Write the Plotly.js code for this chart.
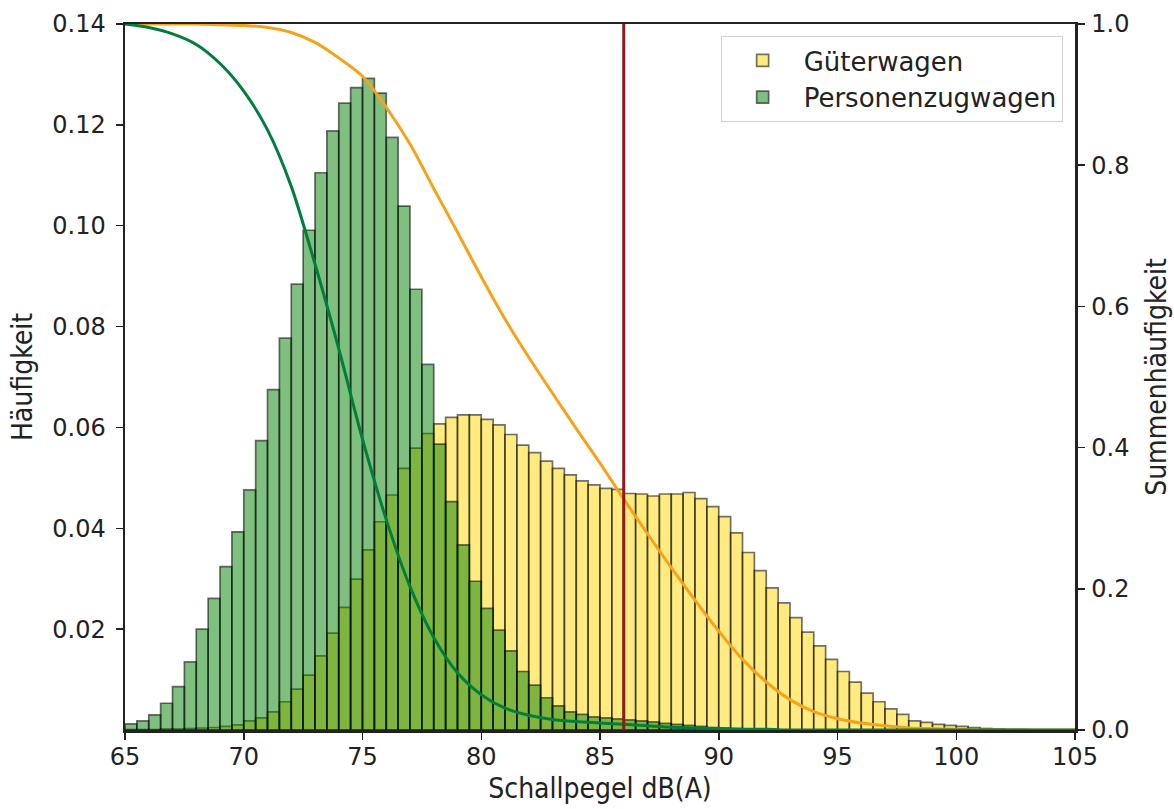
<!DOCTYPE html>
<html>
<head>
<meta charset="utf-8">
<script src="https://cdn.plot.ly/plotly-3.0.1.min.js"></script>
<style>
html,body{margin:0;padding:0;background:#fff;}
#chart{width:1174px;height:809px;}
</style>
</head>
<body>
<div id="chart"></div>
<script>
// ---- data ----
const binStart = 65;      // dB(A), left edge of first bin
const binWidth = 0.5;     // dB(A)

// Güterwagen density per 0.5 dB bin (65.0 .. 103.0)
const gueterwagen = [
  0.0001, 0.0001, 0.0001, 0.0002, 0.0002, 0.0003, 0.0004, 0.0005, 0.0007, 0.0010,
  0.0018, 0.0024, 0.0036, 0.0056, 0.0081, 0.0109, 0.0147, 0.0192, 0.0243, 0.0299,
  0.0357, 0.0413, 0.0466, 0.0519, 0.0559, 0.0588, 0.0607, 0.0620, 0.0625, 0.0625,
  0.0616, 0.0605, 0.0586, 0.0565, 0.0550, 0.0533, 0.0519, 0.0506, 0.0494, 0.0486,
  0.0479, 0.0477, 0.0469, 0.0468, 0.0464, 0.0468, 0.0468, 0.0471, 0.0459, 0.0443,
  0.0423, 0.0391, 0.0352, 0.0316, 0.0282, 0.0252, 0.0223, 0.0194, 0.0167, 0.0140,
  0.0116, 0.0095, 0.0073, 0.0056, 0.0042, 0.0031, 0.0018, 0.0015, 0.0011, 0.0009,
  0.0007, 0.0005, 0.0003, 0.0002, 0.0001, 0.0001
];

// Personenzugwagen density per 0.5 dB bin (65.0 .. 103.0)
const personenzugwagen = [
  0.0012, 0.0018, 0.0030, 0.0053, 0.0086, 0.0135, 0.0200, 0.0261, 0.0324, 0.0393,
  0.0476, 0.0574, 0.0675, 0.0777, 0.0884, 0.0991, 0.1105, 0.1188, 0.1243, 0.1274,
  0.1292, 0.1263, 0.1175, 0.1039, 0.0874, 0.0725, 0.0567, 0.0453, 0.0367, 0.0295,
  0.0241, 0.0198, 0.0157, 0.0116, 0.0089, 0.0064, 0.0048, 0.0036, 0.0031, 0.0026,
  0.0024, 0.0022, 0.0020, 0.0018, 0.0016, 0.0013, 0.0011, 0.0009, 0.0007, 0.0005,
  0.0004, 0.0003, 0.0002, 0.0001, 0.0001, 0, 0, 0, 0, 0,
  0, 0, 0, 0, 0, 0, 0, 0, 0, 0,
  0, 0, 0, 0, 0, 0
];

// Summenhäufigkeit (exceedance) curves, read at 1 dB steps
const curveDb = [65,66,67,68,69,70,71,72,73,74,75,76,77,78,79,80,81,82,83,84,85,
                 86,87,88,89,90,91,92,93,94,95,96,97,98,99,100,101,102,103,104,105];
const gueterSumme = [1.000,1.000,1.000,1.000,0.999,0.998,0.995,0.988,0.974,0.952,0.926,
                     0.882,0.830,0.767,0.705,0.642,0.582,0.528,0.477,0.427,0.378,
                     0.327,0.278,0.230,0.184,0.140,0.100,0.068,0.043,0.026,0.016,
                     0.010,0.006,0.003,0.002,0.001,0.000,0.000,0.000,0.000,0.000];
const personenSumme = [1.000,0.995,0.986,0.971,0.944,0.905,0.850,0.770,0.660,0.540,0.412,
                       0.298,0.203,0.131,0.081,0.050,0.031,0.021,0.015,0.012,0.010,
                       0.008,0.006,0.004,0.003,0.002,0.001,0.001,0.000,0.000,0.000,
                       0.000,0.000,0.000,0.000,0.000,0.000,0.000,0.000,0.000,0.000];

const grenzwertDb = 86;

const xTicks = [65, 70, 75, 80, 85, 90, 95, 100, 105];
const yTicksLeft = [0.02, 0.04, 0.06, 0.08, 0.10, 0.12, 0.14];
const yTicksRight = [0.0, 0.2, 0.4, 0.6, 0.8, 1.0];

const labelGueter = 'Güterwagen';
const labelPersonen = 'Personenzugwagen';

// ---- build ----
const binCenters = gueterwagen.map((_, i) => binStart + binWidth * (i + 0.5));
const axisColor = '#222222';
const tickFont = {family: 'DejaVu Sans, sans-serif', size: 24, color: '#222222'};
const titleFont = {family: 'DejaVu Sans Condensed, Liberation Sans Narrow, DejaVu Sans, sans-serif', size: 28, color: '#222222'};

const traces = [
  {
    type: 'bar', x: binCenters, y: gueterwagen, width: binWidth,
    name: labelGueter,
    marker: {color: 'rgba(255,215,0,0.5)', line: {color: 'rgba(0,0,0,0.55)', width: 1.7}},
    xaxis: 'x', yaxis: 'y', hoverinfo: 'skip'
  },
  {
    type: 'bar', x: binCenters, y: personenzugwagen, width: binWidth,
    name: labelPersonen,
    marker: {color: 'rgba(0,128,0,0.5)', line: {color: 'rgba(0,0,0,0.55)', width: 1.7}},
    xaxis: 'x', yaxis: 'y', hoverinfo: 'skip'
  },
  {
    type: 'scatter', mode: 'lines', x: curveDb, y: gueterSumme,
    line: {color: '#f7a21b', width: 3, shape: 'spline', smoothing: 0.8},
    xaxis: 'x', yaxis: 'y2', showlegend: false, hoverinfo: 'skip'
  },
  {
    type: 'scatter', mode: 'lines', x: curveDb, y: personenSumme,
    line: {color: '#007f3c', width: 3, shape: 'spline', smoothing: 0.8},
    xaxis: 'x', yaxis: 'y2', showlegend: false, hoverinfo: 'skip'
  }
];

const layout = {
  width: 1174, height: 809,
  margin: {l: 125, r: 99, t: 24, b: 79, pad: 0},
  paper_bgcolor: '#ffffff', plot_bgcolor: '#ffffff',
  barmode: 'overlay', bargap: 0,
  showlegend: true,
  legend: {
    x: 0.987, y: 0.983, xanchor: 'right', yanchor: 'top',
    bgcolor: 'rgba(255,255,255,0.85)', bordercolor: '#d0d0d0', borderwidth: 1,
    font: {family: 'DejaVu Sans, sans-serif', size: 26, color: '#222222'},
    itemwidth: 72, traceorder: 'normal'
  },
  xaxis: {
    range: [65, 105], tickvals: xTicks, ticktext: xTicks.map(String),
    ticks: 'outside', ticklen: 7, tickwidth: 1.5, tickcolor: axisColor,
    showline: true, linecolor: axisColor, linewidth: 2.5, mirror: true,
    showgrid: false, zeroline: false, tickfont: tickFont, ticklabelstandoff: -3,
    title: {text: 'Schallpegel dB(A)', font: titleFont, standoff: 8}
  },
  yaxis: {
    range: [0, 0.14], tickvals: yTicksLeft, tickformat: '.2f',
    ticks: 'outside', ticklen: 7, tickwidth: 1.5, tickcolor: axisColor,
    showline: true, linecolor: axisColor, linewidth: 2.5,
    showgrid: false, zeroline: false, tickfont: tickFont, ticklabelstandoff: 5,
    title: {text: 'Häufigkeit', font: titleFont, standoff: 12}
  },
  yaxis2: {
    range: [0, 1], tickvals: yTicksRight, tickformat: '.1f',
    overlaying: 'y', side: 'right', anchor: 'x',
    ticks: 'outside', ticklen: 7, tickwidth: 1.5, tickcolor: axisColor,
    showline: true, linecolor: axisColor, linewidth: 2.5,
    showgrid: false, zeroline: false, tickfont: tickFont, ticklabelstandoff: 2,
    title: {text: 'Summenhäufigkeit', font: titleFont, standoff: 18}
  },
  shapes: [{
    type: 'line', xref: 'x', yref: 'paper',
    x0: grenzwertDb, x1: grenzwertDb, y0: 0, y1: 1,
    line: {color: '#8b1a1a', width: 3}, layer: 'above'
  }]
};

Plotly.newPlot('chart', traces, layout, {staticPlot: true, displayModeBar: false});
</script>
</body>
</html>
